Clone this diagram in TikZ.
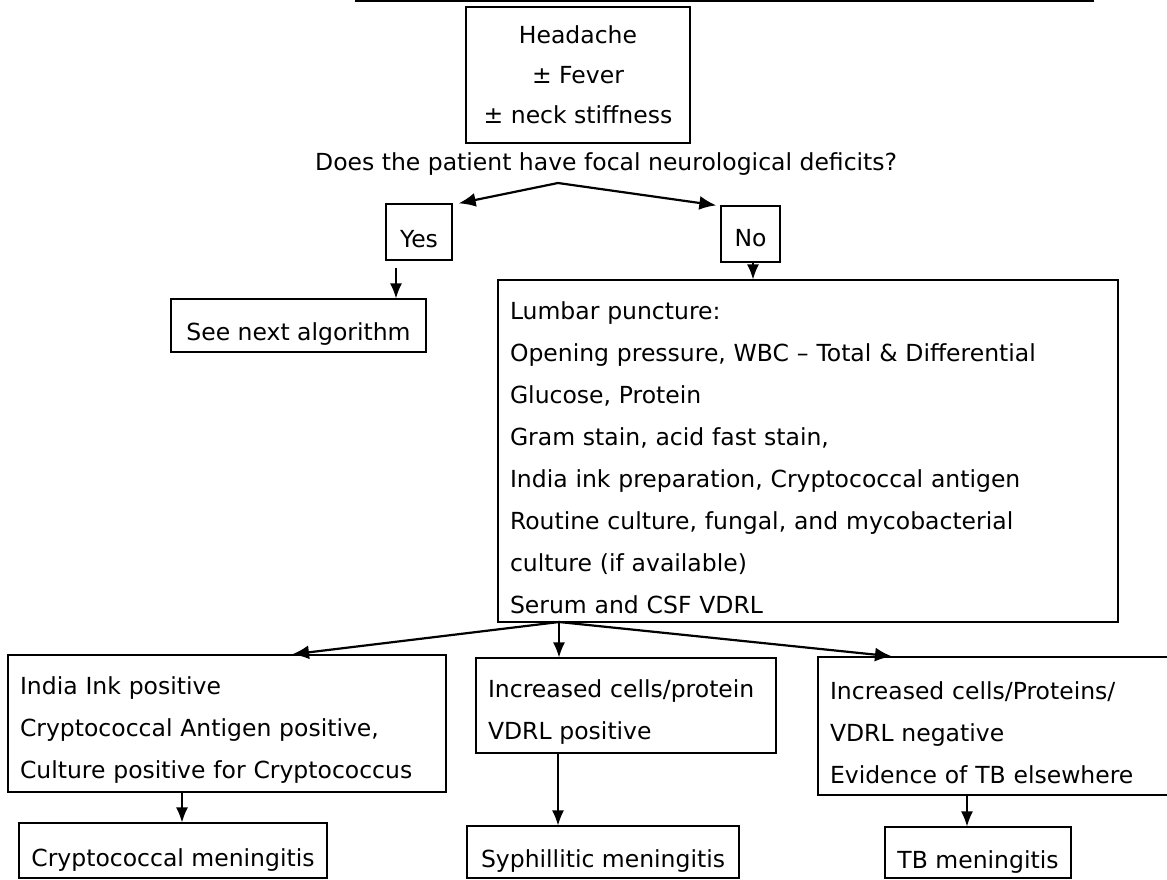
\documentclass[tikz,border=0pt]{standalone}
\usepackage{fontspec}
\setmainfont{DejaVu Sans}
\usetikzlibrary{arrows.meta, positioning}

\begin{document}
\begin{tikzpicture}[x=1pt, y=-1pt,
    b/.style={draw, rectangle, line width=1.3pt, inner xsep=12pt, inner ysep=0pt, align=left,
      execute at begin node={\rule{0pt}{#1}}},
    b/.default=31pt,
    a/.style={-{Latex[length=15pt,width=12pt]}, line width=1.3pt},
    f/.style={-{Latex[length=17pt,width=14pt]}, line width=2.2pt},
    font=\fontsize{23.5}{42}\selectfont]
  \useasboundingbox (0,0) rectangle (1167,879);
  \draw[line width=2.5pt] (355,1) -- (1094,1);
  \node[b=24pt, align=center, minimum width=224pt, minimum height=136pt, font=\fontsize{23.5}{40}\selectfont] (head) at (578,75)
    {Headache\\± Fever\\± neck stiffness};
  \node[anchor=base west, inner sep=0pt] (ask) at (315,170) {Does the patient have focal neurological deficits?};
  \coordinate (askpt) at (558,183);
  \node[b, align=center, minimum width=66pt, minimum height=56pt, inner xsep=4pt] (yes) at (419,232) {Yes};
  \node[b=26pt, align=center, minimum width=59pt, minimum height=56pt, inner xsep=4pt] (no) at (750.5,234) {No};
  \node[b=34pt, align=center, minimum width=255pt, minimum height=53pt, inner xsep=4pt] (next) at (298.5,325.5) {See next algorithm};
  \node[b=32pt, text width=596pt, minimum height=342pt] (lumbar) at (808,451)
    {Lumbar puncture:\\
     Opening pressure, WBC – Total \& Differential\\
     Glucose, Protein\\
     Gram stain, acid fast stain,\\
     India ink preparation, Cryptococcal antigen\\
     Routine culture, fungal, and mycobacterial\\
     culture (if available)\\
     Serum and CSF VDRL};
  \coordinate (fan) at (559,622);
  \node[b, text width=414pt, minimum height=137pt] (ink) at (227,723.5)
    {India Ink positive\\Cryptococcal Antigen positive,\\Culture positive for Cryptococcus};
  \node[b, text width=276pt, minimum height=95pt] (inc) at (626,705.5)
    {Increased cells/protein\\VDRL positive};
  \node[b, text width=326pt, minimum height=138pt] (tbx) at (993,726)
    {Increased cells/Proteins/\\VDRL negative\\Evidence of TB elsewhere};
  \node[b=36pt, align=center, minimum width=308pt, minimum height=55pt, inner xsep=4pt] (crypto) at (173,850.5) {Cryptococcal meningitis};
  \node[b=36pt, align=center, minimum width=272pt, minimum height=52pt, inner xsep=4pt] (syph) at (603,852) {Syphillitic meningitis};
  \node[b=36pt, align=center, minimum width=186pt, minimum height=51pt, inner xsep=4pt] (tb) at (978,852.5) {TB meningitis};

  \draw[f] (askpt) -- ([xshift=6pt]yes.north east);
  \draw[f] (askpt) -- ([xshift=-4pt]no.north west);
  \draw[a] ([xshift=-23pt,yshift=-7pt]yes.south) coordinate (ys) -- (ys |- next.north);
  \draw[a] ([xshift=2.5pt]no.south) coordinate (ns) -- (ns |- lumbar.north);
  \draw[f] (fan) -- ([xshift=65pt]ink.north);
  \draw[a] (fan) -- (fan |- inc.north);
  \draw[f] (fan) -- ([xshift=-101pt]tbx.north);
  \draw[a] ([xshift=-45pt]ink.south) coordinate (c1) -- (c1 |- crypto.north);
  \draw[a] ([xshift=-68pt]inc.south) coordinate (c2) -- (c2 |- syph.north);
  \draw[a] ([xshift=-26pt]tbx.south) coordinate (c3) -- (c3 |- tb.north);
\end{tikzpicture}
\end{document}
